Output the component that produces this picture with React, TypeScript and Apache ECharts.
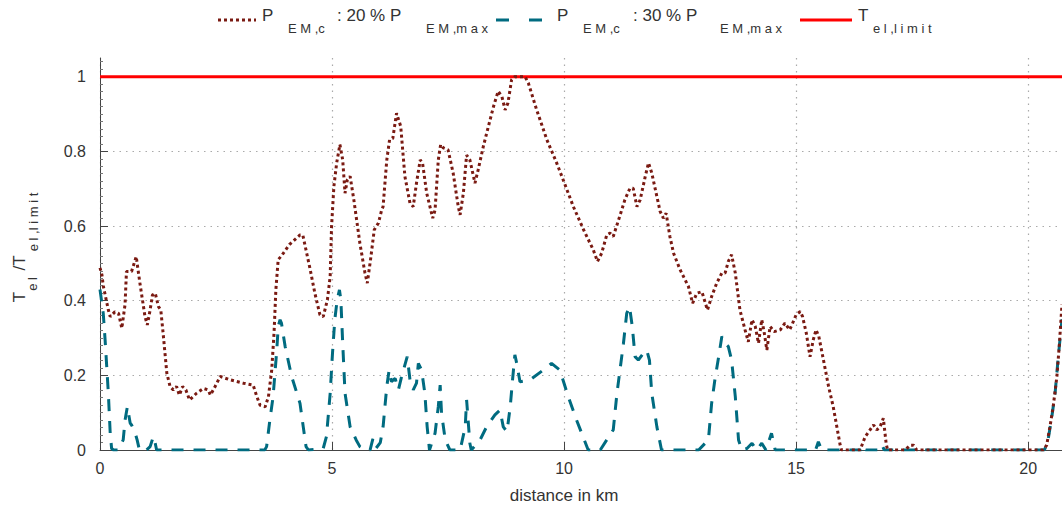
import React, { useEffect, useRef } from "react";
import * as echarts from "echarts";

// P_EM,c : 20 % P_EM,max  (dotted, dark red)
const dist20 = [
  0, 0.04, 0.07, 0.18, 0.22, 0.32, 0.4, 0.47, 0.54, 0.57, 0.68, 0.78, 0.86, 0.97, 1.02, 1.08, 1.13, 1.19, 1.26, 1.31,
  1.36, 1.44, 1.51, 1.58, 1.65, 1.71, 1.78, 1.85, 1.93, 2.08, 2.23, 2.33, 2.38, 2.48, 2.59, 2.8, 3.09, 3.3, 3.38, 3.45,
  3.56, 3.63, 3.7, 3.75, 3.79, 3.84, 3.91, 4.08, 4.31, 4.37, 4.53, 4.63, 4.74, 4.81, 4.9, 4.96, 4.99, 5.04, 5.1, 5.17,
  5.23, 5.28, 5.33, 5.39, 5.47, 5.6, 5.71, 5.76, 5.83, 5.91, 6.0, 6.07, 6.1, 6.18, 6.24, 6.31, 6.39, 6.48, 6.57, 6.68,
  6.75, 6.82, 6.9, 6.95, 7.04, 7.17, 7.22, 7.29, 7.34, 7.4, 7.5, 7.61, 7.72, 7.76, 7.83, 7.9, 7.97, 8.08, 8.15, 8.26,
  8.37, 8.48, 8.58, 8.66, 8.73, 8.79, 8.87, 8.94, 9.16, 9.23, 9.41, 9.63, 9.84, 9.98, 10.2, 10.42, 10.63, 10.72, 10.81, 10.92,
  10.99, 11.06, 11.21, 11.31, 11.42, 11.49, 11.57, 11.64, 11.75, 11.82, 11.89, 12.0, 12.07, 12.14, 12.2, 12.28, 12.36, 12.5, 12.68, 12.77,
  12.86, 12.97, 13.09, 13.18, 13.29, 13.4, 13.47, 13.54, 13.61, 13.69, 13.79, 13.9, 13.97, 14.05, 14.12, 14.19, 14.26, 14.31, 14.37, 14.44,
  14.53, 14.66, 14.76, 14.86, 14.91, 15.0, 15.09, 15.14, 15.22, 15.3, 15.37, 15.43, 15.49, 15.59, 15.7, 15.8, 15.89, 15.95, 15.98, 16.38,
  16.49, 16.67, 16.74, 16.81, 16.88, 16.94, 16.97, 17.35, 17.46, 17.53, 17.6, 20.33, 20.4, 20.47, 20.54, 20.62, 20.67, 20.73,
];
const ratio20 = [
  0.488, 0.47, 0.44, 0.375, 0.357, 0.37, 0.366, 0.326, 0.39, 0.478, 0.478, 0.518, 0.447, 0.357, 0.335, 0.375, 0.415, 0.42, 0.384, 0.375,
  0.313, 0.206, 0.17, 0.161, 0.17, 0.147, 0.17, 0.161, 0.134, 0.152, 0.165, 0.161, 0.147, 0.17, 0.197, 0.188, 0.179, 0.174, 0.143, 0.12,
  0.116, 0.143, 0.214, 0.313, 0.43, 0.51, 0.52, 0.55, 0.576, 0.576, 0.483, 0.42, 0.362, 0.357, 0.402, 0.465, 0.599, 0.706, 0.769, 0.818,
  0.777, 0.688, 0.724, 0.733, 0.67, 0.554, 0.474, 0.447, 0.51, 0.59, 0.608, 0.643, 0.652, 0.777, 0.831, 0.835, 0.902, 0.867, 0.733, 0.661,
  0.652, 0.715, 0.777, 0.769, 0.688, 0.621, 0.643, 0.777, 0.818, 0.809, 0.804, 0.742, 0.652, 0.63, 0.688, 0.79, 0.777, 0.715, 0.751, 0.813,
  0.867, 0.92, 0.961, 0.947, 0.911, 0.929, 0.992, 1.0, 1.0, 0.983, 0.911, 0.831, 0.769, 0.724, 0.652, 0.59, 0.536, 0.505, 0.527, 0.576,
  0.581, 0.572, 0.63, 0.67, 0.701, 0.701, 0.652, 0.67, 0.733, 0.769, 0.742, 0.679, 0.639, 0.621, 0.634, 0.572, 0.527, 0.483, 0.438, 0.393,
  0.42, 0.424, 0.375, 0.411, 0.447, 0.474, 0.474, 0.505, 0.523, 0.474, 0.375, 0.322, 0.29, 0.349, 0.331, 0.286, 0.349, 0.317, 0.268, 0.331,
  0.317, 0.322, 0.34, 0.322, 0.335, 0.362, 0.371, 0.357, 0.313, 0.25, 0.295, 0.322, 0.304, 0.241, 0.17, 0.116, 0.054, 0.013, 0, 0,
  0.036, 0.067, 0.054, 0.062, 0.085, 0.018, 0, 0, 0.013, 0.013, 0, 0, 0.013, 0.062, 0.116, 0.197, 0.277, 0.39,
];

// P_EM,c : 30 % P_EM,max  (dashed, teal)
const dist30 = [
  0, 0.07, 0.11, 0.18, 0.22, 0.25, 0.29, 0.39, 0.5, 0.54, 0.59, 0.65, 0.68, 0.75, 0.8, 0.85, 1.0, 1.08, 1.15, 1.19,
  1.22, 3.55, 3.59, 3.66, 3.73, 3.77, 3.81, 3.84, 3.88, 3.91, 3.99, 4.13, 4.31, 4.38, 4.44, 4.49, 4.81, 4.88, 4.96, 5.01,
  5.06, 5.11, 5.16, 5.19, 5.23, 5.28, 5.39, 5.52, 5.6, 5.71, 5.82, 5.88, 5.95, 6.04, 6.1, 6.18, 6.23, 6.28, 6.36, 6.43,
  6.5, 6.62, 6.68, 6.75, 6.82, 6.86, 6.93, 7.0, 7.05, 7.1, 7.22, 7.29, 7.33, 7.36, 7.44, 7.54, 7.76, 7.87, 7.9, 7.97,
  8.0, 8.19, 8.33, 8.51, 8.62, 8.69, 8.77, 8.84, 8.89, 8.94, 8.98, 9.05, 9.27, 9.55, 9.73, 9.91, 10.09, 10.27, 10.52, 10.78,
  10.92, 11.06, 11.14, 11.28, 11.35, 11.41, 11.47, 11.53, 11.6, 11.71, 11.78, 11.84, 11.89, 12.0, 12.1, 12.9, 13.11, 13.18, 13.25, 13.32,
  13.4, 13.47, 13.54, 13.61, 13.69, 13.76, 13.83, 13.94, 14.05, 14.15, 14.26, 14.35, 14.47, 14.55, 15.42, 15.48, 15.55, 16.4, 16.45, 16.5,
  16.8, 16.85, 16.9, 20.35, 20.42, 20.5, 20.58, 20.65, 20.73,
];
const ratio30 = [
  0.43, 0.366, 0.295, 0.152, 0.045, 0.004, 0, 0, 0.027, 0.08, 0.116, 0.072, 0.067, 0.049, 0.027, 0, 0, 0.009, 0.036, 0.018,
  0, 0, 0.009, 0.08, 0.143, 0.206, 0.268, 0.331, 0.349, 0.34, 0.277, 0.197, 0.125, 0.062, 0.009, 0, 0.004, 0.036, 0.152, 0.259,
  0.349, 0.402, 0.429, 0.402, 0.286, 0.152, 0.062, 0.027, 0.009, 0, 0, 0.03, 0.005, 0.02, 0.062, 0.17, 0.214, 0.183, 0.192, 0.161,
  0.197, 0.25, 0.188, 0.161, 0.179, 0.232, 0.214, 0.152, 0.062, 0, 0.045, 0.116, 0.174, 0.098, 0.027, 0, 0, 0.062, 0.134, 0.018,
  0, 0.027, 0.062, 0.094, 0.107, 0.062, 0.049, 0.116, 0.188, 0.255, 0.232, 0.183, 0.188, 0.214, 0.232, 0.214, 0.143, 0.08, 0, 0,
  0.027, 0.054, 0.152, 0.286, 0.366, 0.384, 0.331, 0.25, 0.241, 0.259, 0.268, 0.241, 0.152, 0.062, 0, 0, 0.027, 0.125, 0.188, 0.241,
  0.304, 0.286, 0.277, 0.241, 0.143, 0.027, 0, 0.004, 0.018, 0, 0.018, 0, 0.045, 0, 0, 0.022, 0, 0, 0.013, 0,
  0, 0.013, 0, 0, 0.02, 0.08, 0.15, 0.25, 0.35,
];

// T_el / T_el,limit limit line
const limitDist = [0, 20.73];
const limitVal = [1, 1];

const xTicks = [0, 5, 10, 15, 20];
const yTicks = [0, 0.2, 0.4, 0.6, 0.8, 1];

const FONT = "'Liberation Sans', Arial, sans-serif";
const DOT_COLOR = "#7a1a12";
const DASH_COLOR = "#006b80";
const LIMIT_COLOR = "#ff0000";
const TXT = "#333333";

const zip = (xs: number[], ys: number[]) => xs.map((x, i) => [x, ys[i]]);

const txt = (text: string, x: number, y: number, size: number, extra: any = {}) => ({
  type: "text",
  x,
  y,
  ...extra,
  style: {
    text,
    fontSize: size,
    fontFamily: FONT,
    fill: TXT,
    textVerticalAlign: "middle",
    verticalAlign: "middle",
    ...(extra.style || {}),
  },
});

export default function App() {
  const ref = useRef<HTMLDivElement>(null);
  useEffect(() => {
    document.body.style.margin = "0";
    const chart = echarts.init(ref.current!, null, { renderer: "svg" });
    const big = 17;
    const small = 13;
    const legendGraphics: any[] = [
      { type: "line", shape: { x1: 218, y1: 20, x2: 256, y2: 20 }, style: { stroke: DOT_COLOR, lineWidth: 3, lineDash: [3, 3] } },
      txt("P", 262, 15, big),
      txt("E M ,c", 288, 28, small),
      txt(": 20 % P", 337, 15, big),
      txt("E M ,m a x", 426, 28, small),
      { type: "line", shape: { x1: 496, y1: 20, x2: 546, y2: 20 }, style: { stroke: DASH_COLOR, lineWidth: 3, lineDash: [13, 20] } },
      txt("P", 557, 15, big),
      txt("E M ,c", 583, 28, small),
      txt(": 30 % P", 633, 15, big),
      txt("E M ,m a x", 720, 28, small),
      { type: "line", shape: { x1: 800, y1: 20, x2: 852, y2: 20 }, style: { stroke: LIMIT_COLOR, lineWidth: 3 } },
      txt("T", 858, 15, big),
      txt("e l ,l i m i t", 873, 28, small),
      // y axis name (rotated)
      txt("T", 19, 297, big, { rotation: Math.PI / 2, style: { align: "center" } }),
      txt("e l", 32, 284, small, { rotation: Math.PI / 2, style: { align: "center" } }),
      txt("/T", 19, 263, big, { rotation: Math.PI / 2, style: { align: "center" } }),
      txt("e l ,l i m i t", 33, 222, small, { rotation: Math.PI / 2, style: { align: "center" } }),
      // x axis name
      txt("distance in km", 564, 495, 17, { style: { align: "center" } }),
    ];

    chart.setOption({
      animation: false,
      backgroundColor: "#ffffff",
      grid: { left: 100, right: 0, top: 58, bottom: 56, containLabel: false },
      xAxis: {
        type: "value",
        min: 0,
        max: 20.73,
        interval: 5,
        axisLine: { show: true, onZero: false, lineStyle: { color: "#444", width: 1 } },
        axisTick: { show: true, inside: true, length: 8, customValues: xTicks, lineStyle: { color: "#444" } },
        axisLabel: { customValues: xTicks, margin: 10, fontSize: 16, fontFamily: FONT, color: TXT, formatter: (v: number) => String(v) },
        splitLine: { show: true, lineStyle: { color: "#aaaaaa", width: 1.2, type: [1.5, 5] } },
        minorTick: { show: false },
      },
      yAxis: {
        type: "value",
        min: 0,
        max: 1.05,
        interval: 0.2,
        axisLine: { show: true, onZero: false, lineStyle: { color: "#444", width: 1 } },
        axisTick: { show: true, inside: true, length: 8, customValues: yTicks, lineStyle: { color: "#444" } },
        minorTick: { show: true, splitNumber: 10, length: 3, lineStyle: { color: "#777" } },
        axisLabel: { customValues: yTicks, margin: 14, fontSize: 16, fontFamily: FONT, color: TXT, formatter: (v: number) => String(Math.round(v * 10) / 10) },
        splitLine: { show: true, lineStyle: { color: "#aaaaaa", width: 1.2, type: [1.5, 5] } },
      },
      series: [
        {
          name: "limit",
          type: "line",
          data: zip(limitDist, limitVal),
          showSymbol: false,
          symbol: "none",
          lineStyle: { color: LIMIT_COLOR, width: 3 },
          clip: false,
          z: 2,
        },
        {
          name: "30",
          type: "line",
          data: zip(dist30, ratio30),
          showSymbol: false,
          symbol: "none",
          lineStyle: { color: DASH_COLOR, width: 3, type: [12, 10], cap: "butt" },
          z: 3,
        },
        {
          name: "20",
          type: "line",
          data: zip(dist20, ratio20),
          showSymbol: false,
          symbol: "none",
          lineStyle: { color: DOT_COLOR, width: 3, type: [3, 3], cap: "butt" },
          z: 4,
        },
      ],
      graphic: legendGraphics,
    });
    return () => chart.dispose();
  }, []);
  return <div ref={ref} style={{ width: 1062, height: 506 }} />;
}
